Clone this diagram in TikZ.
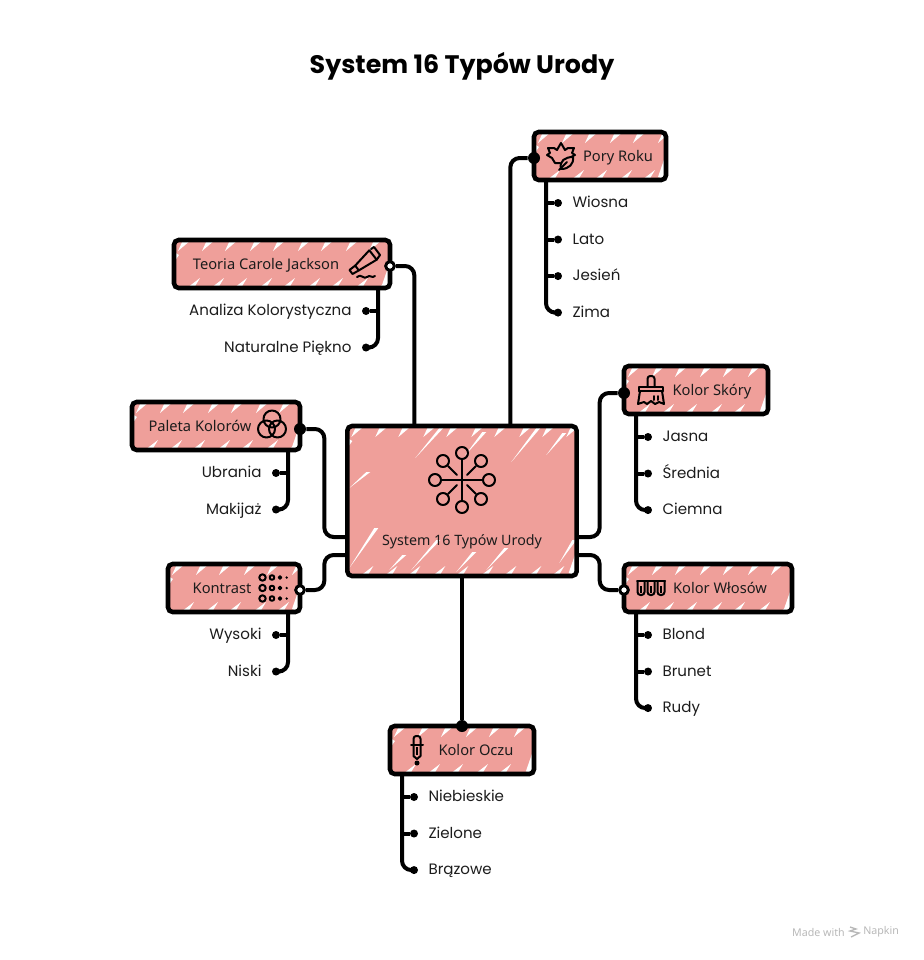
\documentclass[tikz,border=0pt]{standalone}
\usepackage{fontspec}
\setmainfont{Noto Sans}
\newfontfamily\handfont{Poppins}
\usetikzlibrary{calc,positioning}
\definecolor{rosefill}{HTML}{EF9F9A}
\definecolor{inkgrey}{HTML}{1C1C1C}
\definecolor{footgrey}{HTML}{B8B8B8}

\newcommand{\edgeteeth}{%
  \foreach \toothx in {9,33,56,81,104,129,152,177,200,224} {
    \fill[white, sharp corners] ($(path picture bounding box.north west)+(\toothx,0)$)
      -- ++(8,0) -- ++(-13,11) -- cycle;
    \fill[white, sharp corners] ($(path picture bounding box.south west)+(\toothx+4,0)$)
      -- ++(7,0) -- ++(6,-10) -- cycle;
  }
  \fill[white, sharp corners] ($(path picture bounding box.south east)+(0,-26)$)
    -- ++(-8,23) -- ++(8,3) -- cycle;
  \fill[white, sharp corners] ($(path picture bounding box.north west)+(0,12)$)
    -- ++(5,3) -- ++(-5,7) -- cycle;
}
\newcommand{\hubslashes}{%
  \foreach \ax/\ay/\bx/\by in {68/32/92/2, 118/29/135/6, 164/36/189/2, 199/29/215/7,
                               2/62/19/46, 2/142/27/102, 64/144/89/114, 109/146/125/126,
                               139/144/157/122, 42/144/55/129, 212/137/225/114}
    \fill[white, sharp corners] ($(path picture bounding box.north west)+(\ax,\ay)$)
      -- ($(path picture bounding box.north west)+(\bx,\by)$)
      -- ($(path picture bounding box.north west)+(\bx+4,\by)$) -- cycle;
}

\begin{document}
\begin{tikzpicture}[
  x=0.75pt, y=-0.75pt,
  node distance=21pt,
  box/.style={draw=black, line width=3.4pt, fill=rosefill, rounded corners=3.5pt,
              minimum height=36pt, inner sep=0pt, outer sep=0pt, text=inkgrey,
              text height=9.5pt, text depth=2pt,
              font=\fontsize{11}{13}\selectfont, path picture={\edgeteeth}},
  hub/.style={box, minimum width=172pt, minimum height=112.5pt,
              text height=70pt, text depth=4pt, font=\fontsize{10.7}{13}\selectfont,
              path picture={\edgeteeth\hubslashes}},
  wire/.style={line width=3pt, rounded corners=7pt},
  joint/.style={circle, fill=black, inner sep=0pt, minimum size=9pt},
  ring/.style={circle, draw=black, line width=2.2pt, fill=white, inner sep=0pt, minimum size=6.5pt},
  leafdot/.style={circle, fill=black, inner sep=0pt, minimum size=6pt},
  leaf/.style={inner sep=0pt, text=inkgrey, text height=9pt, text depth=2.3pt,
               font=\handfont\fontsize{11.3}{13}\selectfont},
  title/.style={font=\handfont\bfseries\fontsize{19}{23}\selectfont, inner sep=0pt},
  foot/.style={font=\fontsize{8}{10}\selectfont, text=footgrey, inner sep=0pt},
  icon/.style={line width=1.5pt, line join=round, line cap=round},
  huburst/.pic={
    \draw[icon] (-21,0) -- (21,0) (0,-21) -- (0,21);
    \draw[icon] (-14,-14) -- (-5,-5) (14,-14) -- (5,-5) (-14,14) -- (-5,5) (14,14) -- (5,5);
    \foreach \cx/\cy in {0/-27,0/27,-27/0,27/0,-19/-19,19/-19,-19/19,19/19}
      \draw[icon] (\cx,\cy) circle[radius=6];
  },
  paintube/.pic={
    \draw[icon] (7.3,-13.7) -- (14.7,-4.3) -- (-3.2,6.4) -- (-6.8,1.6) -- cycle;
    \draw[icon] (9,-15) -- (12,-17) -- (18,-9) -- (14.7,-4.3);
    \draw[icon] (-3.2,6.4) -- (-9.5,10) -- (-12.5,6) -- (-6.8,1.6);
    \draw[icon] (-5,13) .. controls (-1,9) and (2,16) .. (5,13) .. controls (8,10) and (10,15) .. (13,12);
  },
  venn/.pic={
    \foreach \cx/\cy in {0/-6,-5.5/4,5.5/4}
      \draw[icon] (\cx,\cy) circle[radius=8.5];
  },
  dotgrid/.pic={
    \foreach \ry in {-10.5,0,10.5} {
      \draw[icon] (-11.5,\ry) circle[radius=3.2];
      \draw[icon] (-2,\ry) circle[radius=2.3];
      \draw[icon, line width=1.2pt] (6,\ry) circle[radius=1.5];
      \fill (12.7,\ry) circle[radius=1.3];
    }
  },
  mapleleaf/.pic={
    \draw[icon] (-1,7) -- (-6,7) -- (-9,2) -- (-14,-1) -- (-11,-3) -- (-13,-8) -- (-7,-8) -- (-4,-6)
      -- (0,-13) -- (4,-6) -- (7,-8) -- (13,-8) -- (11,-3) -- (14,-1) -- (10,1);
    \draw[icon] (0,13) .. controls (-2,5) and (4,1) .. (12,1) .. controls (13,8) and (8,13) .. (0,13) -- cycle;
    \draw[icon] (-2,14) -- (6,6);
  },
  paintbrush/.pic={
    \draw[icon, rounded corners=2pt] (-3.5,-3) -- (-3.5,-14) -- (3.5,-14) -- (3.5,-3);
    \draw[icon] (-12,1) -- (-12,-3) -- (12,-3) -- (12,1);
    \draw[icon] (-12,1) -- (12,1);
    \draw[icon] (-11,1) -- (-13,14) -- (-7,12) -- (-4,14) -- (0,11) -- (4,14) -- (8,12) -- (13,14) -- (11,1);
    \draw[icon] (3,6) -- (3,10) (7,6) -- (7,10);
  },
  testtubes/.pic={
    \foreach \cx in {-10,0,10} {
      \draw[icon, rounded corners=2.2pt] (\cx-3.5,-7) -- (\cx-3.5,7) -- (\cx+3.5,7) -- (\cx+3.5,-7);
      \fill (\cx-1,-2) rectangle (\cx+1,5);
    }
    \draw[icon] (-14,-7) -- (14,-7);
  },
  dropper/.pic={
    \draw[icon, rounded corners=2pt] (-3.5,-5) -- (-3.5,-14) -- (3.5,-14) -- (3.5,-5);
    \draw[icon] (-6,-5) -- (6,-5);
    \draw[icon] (-3.5,-5) -- (-3.5,6) -- (0,9) -- (3.5,6) -- (3.5,-5);
    \fill (-1,-3) rectangle (1,5);
    \fill (0,13) circle[radius=2.5];
  },
]
\useasboundingbox (0,0) rectangle (924,960);

% ---- title ----
\node[title] (heading) at (462,66) {System 16 Typów Urody};

% ---- centre ----
\node[hub] (centre) at (462,501) {System 16 Typów Urody};
\pic at (462,480) {huburst};

% ---- topic boxes ----
\node[box, minimum width=99pt]  (pory)    at (600,156) {\hspace*{27pt}Pory Roku};
\node[box, minimum width=162pt] (teoria)  at (282,264) {Teoria Carole Jackson\hspace*{24pt}};
\node[box, minimum width=126pt] (paleta)  at (216,426) {Paleta Kolorów\hspace*{24pt}};
\node[box, minimum width=99pt]  (kontrast) at (234,588) {Kontrast\hspace*{18pt}};
\node[box, minimum width=108pt] (skora)   at (696,390) {\hspace*{24pt}Kolor Skóry};
\node[box, minimum width=126pt] (wlosy)   at (708,588) {\hspace*{18pt}Kolor Włosów};
\node[box, minimum width=108pt] (oczy)    at (462,750) {\hspace*{21pt}Kolor Oczu};

\pic at (561,156) {mapleleaf};
\pic at (362,264) {paintube};
\pic at (272,425) {venn};
\pic at (274,588) {dotgrid};
\pic at (651,390) {paintbrush};
\pic at (651,588) {testtubes};
\pic at (417,750) {dropper};

% ---- joints on the boxes ----
\node[joint] (jpory)     at ($(pory.west)+(0,2)$) {};
\node[ring]  (jteoria)   at ($(teoria.east)+(0,2)$) {};
\node[joint] (jpaleta)   at ($(paleta.east)+(0,3)$) {};
\node[ring]  (jkontrast) at ($(kontrast.east)+(0,2)$) {};
\node[joint] (jskora)    at ($(skora.west)+(0,3)$) {};
\node[ring]  (jwlosy)    at ($(wlosy.west)+(0,2)$) {};
\node[joint] (joczy)     at (oczy.north) {};

% ---- centre to boxes ----
\coordinate (hubna) at ($(centre.north west)+(67,0)$);
\coordinate (hubnb) at ($(centre.north west)+(163,0)$);
\coordinate (hubwa) at ($(centre.south west)+(0,-39)$);
\coordinate (hubwb) at ($(centre.south west)+(0,-21)$);
\coordinate (hubea) at ($(centre.south east)+(0,-39)$);
\coordinate (hubeb) at ($(centre.south east)+(0,-21)$);

\draw[wire] (hubnb) |- (jpory);
\draw[wire] (hubna) |- (jteoria);
\draw[wire] (hubwa) -- ++(-23,0) |- (jpaleta);
\draw[wire] (hubwb) -- ++(-23,0) |- (jkontrast);
\draw[wire] (hubea) -- ++(23,0) |- (jskora);
\draw[wire] (hubeb) -- ++(23,0) |- (jwlosy);
\draw[wire] (centre.south) -- (joczy);

% ---- pory roku ----
\coordinate (spory) at ($(pory.south west)+(12,0)$);
\node[leafdot] (wiosna) at ($(pory.south west)+(24,23)$) {};
\node[leafdot, below=of wiosna] (lato)   {};
\node[leafdot, below=of lato]   (jesien) {};
\node[leafdot, below=of jesien] (zima)   {};
\node[leaf, right=7.5pt of wiosna] (wiosnatxt) {Wiosna};
\node[leaf, right=7.5pt of lato]   (latotxt)   {Lato};
\node[leaf, right=7.5pt of jesien] (jesientxt) {Jesień};
\node[leaf, right=7.5pt of zima]   (zimatxt)   {Zima};
\draw[wire] (spory) |- (zima);
\draw[wire] (wiosna) -- (wiosna -| spory);
\draw[wire] (lato)   -- (lato -| spory);
\draw[wire] (jesien) -- (jesien -| spory);

% ---- teoria ----
\coordinate (steoria) at ($(teoria.south east)+(-12,0)$);
\node[leafdot] (analiza) at ($(teoria.south east)+(-24,23)$) {};
\node[leafdot, below=of analiza] (piekno) {};
\node[leaf, left=7.5pt of analiza] (analizatxt) {Analiza Kolorystyczna};
\node[leaf, left=7.5pt of piekno]  (peknotxt)   {Naturalne Piękno};
\draw[wire] (steoria) |- (piekno);
\draw[wire] (analiza) -- (analiza -| steoria);

% ---- paleta ----
\coordinate (spaleta) at ($(paleta.south east)+(-12,0)$);
\node[leafdot] (ubrania) at ($(paleta.south east)+(-24,23)$) {};
\node[leafdot, below=of ubrania] (makijaz) {};
\node[leaf, left=7.5pt of ubrania] (ubraniatxt) {Ubrania};
\node[leaf, left=7.5pt of makijaz] (makijaztxt) {Makijaż};
\draw[wire] (spaleta) |- (makijaz);
\draw[wire] (ubrania) -- (ubrania -| spaleta);

% ---- kontrast ----
\coordinate (skontrast) at ($(kontrast.south east)+(-12,0)$);
\node[leafdot] (wysoki) at ($(kontrast.south east)+(-24,23)$) {};
\node[leafdot, below=of wysoki] (niski) {};
\node[leaf, left=7.5pt of wysoki] (wysokitxt) {Wysoki};
\node[leaf, left=7.5pt of niski]  (niskitxt)  {Niski};
\draw[wire] (skontrast) |- (niski);
\draw[wire] (wysoki) -- (wysoki -| skontrast);

% ---- kolor skory ----
\coordinate (sskora) at ($(skora.south west)+(12,0)$);
\node[leafdot] (jasna) at ($(skora.south west)+(24,23)$) {};
\node[leafdot, below=of jasna]   (srednia) {};
\node[leafdot, below=of srednia] (ciemna)  {};
\node[leaf, right=7.5pt of jasna]   (jasnatxt)   {Jasna};
\node[leaf, right=7.5pt of srednia] (sredniatxt) {Średnia};
\node[leaf, right=7.5pt of ciemna]  (ciemnatxt)  {Ciemna};
\draw[wire] (sskora) |- (ciemna);
\draw[wire] (jasna)   -- (jasna -| sskora);
\draw[wire] (srednia) -- (srednia -| sskora);

% ---- kolor wlosow ----
\coordinate (swlosy) at ($(wlosy.south west)+(12,0)$);
\node[leafdot] (blond) at ($(wlosy.south west)+(24,23)$) {};
\node[leafdot, below=of blond]  (brunet) {};
\node[leafdot, below=of brunet] (rudy)   {};
\node[leaf, right=7.5pt of blond]  (blondtxt)  {Blond};
\node[leaf, right=7.5pt of brunet] (brunettxt) {Brunet};
\node[leaf, right=7.5pt of rudy]   (rudytxt)   {Rudy};
\draw[wire] (swlosy) |- (rudy);
\draw[wire] (blond)  -- (blond -| swlosy);
\draw[wire] (brunet) -- (brunet -| swlosy);

% ---- kolor oczu ----
\coordinate (soczy) at ($(oczy.south west)+(12,0)$);
\node[leafdot] (niebieskie) at ($(oczy.south west)+(24,23)$) {};
\node[leafdot, below=of niebieskie] (zielone) {};
\node[leafdot, below=of zielone]    (brazowe) {};
\node[leaf, right=7.5pt of niebieskie] (niebieskietxt) {Niebieskie};
\node[leaf, right=7.5pt of zielone]    (zielonetxt)    {Zielone};
\node[leaf, right=7.5pt of brazowe]    (brazowetxt)    {Brązowe};
\draw[wire] (soczy) |- (brazowe);
\draw[wire] (niebieskie) -- (niebieskie -| soczy);
\draw[wire] (zielone)    -- (zielone -| soczy);

% ---- footer ----
\node[foot, anchor=east] (madewith) at (845,932) {Made with};
\node[foot, anchor=west] (napkin)   at (863,932) {Napkin};
\draw[footgrey, line width=1pt] (850,927) -- (856,929) -- (850,931) -- (859,933) -- (851,937);
\end{tikzpicture}
\end{document}
